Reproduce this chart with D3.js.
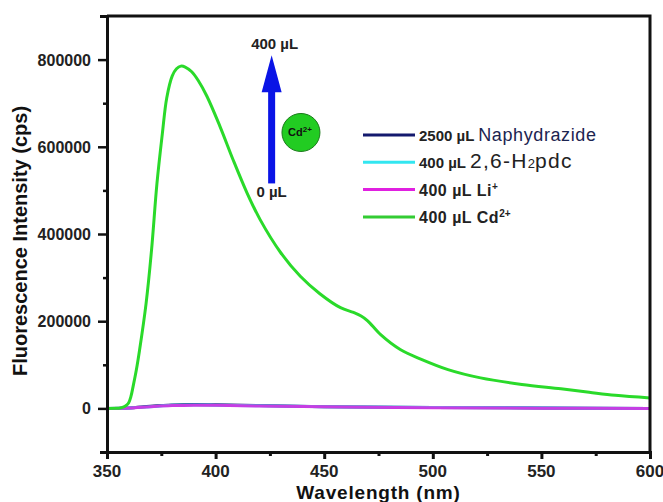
<!DOCTYPE html>
<html>
<head>
<meta charset="utf-8">
<script src="https://cdn.jsdelivr.net/npm/d3@7"></script>
<style>
    body { margin: 0; background: #fff; }
    svg { display: block; }
    text { font-family: "Liberation Sans", Arial, sans-serif; }
</style>
</head>
<body>
<div id="chart"></div>
<script>
'use strict';

// Data
const wavelengths = [350, 354, 356, 358, 359, 360, 361, 362, 363.5, 365, 368, 370.5, 373, 375.5, 377.5, 380, 382,
    384, 386, 389, 392, 396, 402, 408, 414.5, 420.5, 430, 439, 448, 457.5, 463.5, 467, 470, 476, 485, 495,
    507, 522, 541, 559, 572, 584, 600];
const cdValues = [0, 300, 1000, 4000, 7500, 13000, 27000, 50000, 88000, 134000, 241000, 363000, 516000, 631000,
    712000, 762000, 779000, 785000, 783000, 772000, 752000, 716000, 647000, 571000, 494000, 433000, 357000,
    303000, 263000, 231000, 220000, 212000, 201000, 169000, 135000, 112000, 89000, 70000, 55000, 45000,
    37000, 30000, 24000];
const baseWavelengths = [350, 360, 370, 380, 390, 400, 420, 450, 500, 550, 600];
const naphValues = [0, 1000, 5000, 8000, 9000, 8500, 6500, 4000, 2000, 1000, 0];
const pdcValues = [0, 1000, 4000, 7000, 8000, 7500, 6000, 4000, 2000, 1000, 0];
const liValues = [0, 1000, 4000, 6500, 7500, 7000, 5500, 3500, 1500, 500, -500];
const xTicks = [350, 400, 450, 500, 550, 600];
const yTicks = [0, 200000, 400000, 600000, 800000];

// Legend entries
const legendItems = [
    {key: 'naph', color: '#141a6e'},
    {key: 'pdc', color: '#33e6f0'},
    {key: 'li', color: '#e020e0'},
    {key: 'cd', color: '#33cc33'}
];

class Spectrum {

    // Configs
    svgW = 663;
    svgH = 502;
    margin = {top: 16, right: 13, bottom: 50, left: 107};
    gW = this.svgW - (this.margin.left + this.margin.right);
    gH = this.svgH - (this.margin.top + this.margin.bottom);

    // Tools
    x = d3.scaleLinear().domain([350, 600]).range([0, this.gW]);
    y = d3.scaleLinear().domain([-100000, 900000]).range([this.gH, 0]);

    constructor(_target) {
        this.target = _target;
        this.init();
    }

    init() {
        const vis = this;

        vis.svg = d3.select(`#${vis.target}`)
            .append('svg')
            .attr('width', vis.svgW)
            .attr('height', vis.svgH);
        vis.g = vis.svg.append('g')
            .attr('transform', `translate(${vis.margin.left},${vis.margin.top})`);

        vis.render();
    }

    render() {
        const vis = this;
        const x = vis.x, y = vis.y;

        // Lines
        const line = (xs) => d3.line()
            .x((d, i) => x(xs[i]))
            .y(d => y(d))
            .curve(d3.curveCatmullRom.alpha(0.5));

        const series = [
            {vals: naphValues, xs: baseWavelengths, color: '#141a6e', op: 1},
            {vals: pdcValues, xs: baseWavelengths, color: '#33e6f0', op: 1},
            {vals: liValues, xs: baseWavelengths, color: '#e020e0', op: 0.85},
            {vals: cdValues, xs: wavelengths, color: '#2ada2a', op: 1}
        ];
        vis.g.selectAll('.series')
            .data(series)
            .join('path')
            .attr('class', 'series')
            .attr('fill', 'none')
            .attr('stroke', d => d.color)
            .attr('stroke-opacity', d => d.op)
            .attr('stroke-width', 3)
            .attr('stroke-linejoin', 'round')
            .attr('d', d => line(d.xs)(d.vals));

        // Frame (top & right)
        vis.g.append('path')
            .attr('d', `M0,0H${vis.gW}V${vis.gH}`)
            .attr('fill', 'none')
            .attr('stroke', '#111')
            .attr('stroke-width', 3);

        // X axis
        const xAxis = vis.g.append('g')
            .attr('transform', `translate(0,${vis.gH})`)
            .call(d3.axisBottom(x).tickValues(d3.range(350, 601, 25)).tickSize(7).tickFormat(''));
        xAxis.select('.domain').attr('stroke', '#111').attr('stroke-width', 3);
        xAxis.selectAll('.tick line')
            .attr('stroke', '#111')
            .attr('stroke-width', 3)
            .attr('y2', d => d % 50 === 0 ? 7 : 4);
        xAxis.selectAll('.lbl')
            .data(xTicks)
            .join('text')
            .attr('class', 'lbl')
            .attr('x', d => x(d))
            .attr('y', 25)
            .attr('text-anchor', 'middle')
            .attr('font-size', 17)
            .attr('font-weight', 'bold')
            .attr('fill', '#222')
            .text(d => d);

        // Y axis
        const yAxis = vis.g.append('g')
            .call(d3.axisLeft(y).tickValues(d3.range(-100000, 900001, 100000)).tickSize(7).tickFormat(''));
        yAxis.select('.domain').attr('stroke', '#111').attr('stroke-width', 3);
        yAxis.selectAll('.tick line')
            .attr('stroke', '#111')
            .attr('stroke-width', 2.5)
            .attr('x2', d => (d % 200000 === 0 && d >= 0) ? -9 : -4);
        yAxis.selectAll('.lbl')
            .data(yTicks)
            .join('text')
            .attr('class', 'lbl')
            .attr('x', -16)
            .attr('y', d => y(d) + 6)
            .attr('text-anchor', 'end')
            .attr('font-size', 16)
            .attr('font-weight', 'bold')
            .attr('fill', '#222')
            .text(d => d);

        // Axis titles
        vis.svg.append('text')
            .attr('x', vis.margin.left + vis.gW / 2)
            .attr('y', 499)
            .attr('text-anchor', 'middle')
            .attr('font-size', 19)
            .attr('font-weight', 'bold')
            .attr('letter-spacing', 0.8)
            .attr('fill', '#111')
            .text('Wavelength (nm)');
        vis.svg.append('text')
            .attr('transform', 'translate(27,241) rotate(-90)')
            .attr('text-anchor', 'middle')
            .attr('font-size', 20)
            .attr('font-weight', 'bold')
            .attr('fill', '#111')
            .text('Fluorescence Intensity (cps)');

        // Arrow annotation
        const ax = x(425.8);
        const tip = y(810000), base = y(725000), bottom = y(516000);
        vis.g.append('rect')
            .attr('x', ax - 3.5)
            .attr('y', base - 1)
            .attr('width', 7)
            .attr('height', bottom - base + 1)
            .attr('fill', '#0a14e6');
        vis.g.append('path')
            .attr('d', `M${ax},${tip}L${ax + 10},${base}L${ax - 10},${base}Z`)
            .attr('fill', '#0a14e6');
        vis.g.append('text')
            .attr('x', ax + 3)
            .attr('y', tip - 6)
            .attr('text-anchor', 'middle')
            .attr('font-size', 15)
            .attr('font-weight', 'bold')
            .attr('fill', '#222')
            .text('400 µL');
        vis.g.append('text')
            .attr('x', ax)
            .attr('y', bottom + 14)
            .attr('text-anchor', 'middle')
            .attr('font-size', 15)
            .attr('font-weight', 'bold')
            .attr('fill', '#222')
            .text('0 µL');

        // Cd2+ ball
        const cx = x(439.3), cy = y(632800);
        vis.g.append('circle')
            .attr('cx', cx)
            .attr('cy', cy)
            .attr('r', 19)
            .attr('fill', '#22cc22')
            .attr('stroke', '#1a7a1a')
            .attr('stroke-width', 1);
        const ball = vis.g.append('text')
            .attr('x', cx - 1)
            .attr('y', cy + 4)
            .attr('text-anchor', 'middle')
            .attr('font-size', 11)
            .attr('font-weight', 'bold')
            .attr('fill', '#111');
        ball.append('tspan').text('Cd');
        ball.append('tspan').attr('dy', -4).attr('font-size', 8).text('2+');

        // Legend
        const legend = vis.svg.append('g').attr('transform', 'translate(363,135)');
        const rows = legend.selectAll('.row')
            .data(legendItems)
            .join('g')
            .attr('class', 'row')
            .attr('transform', (d, i) => `translate(0,${i * 27.3})`);
        rows.append('line')
            .attr('x1', 0)
            .attr('x2', 52)
            .attr('stroke', d => d.color)
            .attr('stroke-width', 3);
        rows.each(function(d) {
            const t = d3.select(this).append('text')
                .attr('x', 56)
                .attr('y', 6)
                .attr('fill', '#222');
            if (d.key === 'naph') {
                t.append('tspan').attr('font-size', 15).attr('font-weight', 'bold').text('2500 µL ');
                t.append('tspan').attr('font-size', 18).attr('letter-spacing', 0.6)
                    .attr('fill', '#1c2450').text('Naphydrazide');
            } else if (d.key === 'pdc') {
                t.append('tspan').attr('font-size', 15).attr('font-weight', 'bold').text('400 µL ');
                t.append('tspan').attr('font-size', 21).attr('letter-spacing', 1.3).text('2,6-H');
                t.append('tspan').attr('font-size', 13).text('2');
                t.append('tspan').attr('font-size', 21).attr('letter-spacing', 1.3).text('pdc');
            } else if (d.key === 'li') {
                t.append('tspan').attr('font-size', 16).attr('font-weight', 'bold')
                    .attr('letter-spacing', 0.5).text('400 µL Li');
                t.append('tspan').attr('font-size', 10).attr('font-weight', 'bold').attr('dy', -6).text('+');
            } else {
                t.append('tspan').attr('font-size', 16).attr('font-weight', 'bold')
                    .attr('letter-spacing', 0.5).text('400 µL Cd');
                t.append('tspan').attr('font-size', 10).attr('font-weight', 'bold').attr('dy', -6).text('2+');
            }
        });
    }
}

new Spectrum('chart');
</script>
</body>
</html>
